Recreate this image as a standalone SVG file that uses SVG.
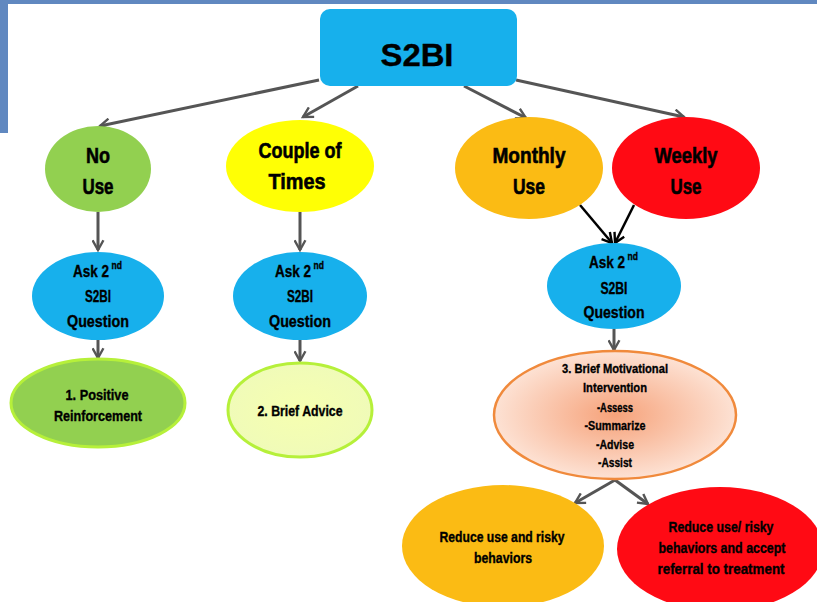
<svg xmlns="http://www.w3.org/2000/svg" width="817" height="602" viewBox="0 0 817 602">
<style>
.t{font-family:"Liberation Sans",Arial,sans-serif;font-weight:bold;fill:#000;text-anchor:middle;stroke:#000;stroke-width:0.35}
.s{text-anchor:start}
.big{font-size:22px;stroke-width:0.6}
.ask{font-size:16.5px}
.sup{font-size:10px}
.sm{font-size:14.5px}
.xs{font-size:13.5px}
.c{stroke:#555;stroke-width:3;fill:none}
.k{stroke:#000;stroke-width:2.5;fill:none}
</style>
<defs>
<marker id="ag" viewBox="0 0 12 12" refX="10" refY="6" markerWidth="13" markerHeight="13" markerUnits="userSpaceOnUse" orient="auto">
<path d="M1,1 L10,6 L1,11" fill="none" stroke="#555" stroke-width="2.2"/>
</marker>
<marker id="ak" viewBox="0 0 12 12" refX="10" refY="6" markerWidth="13" markerHeight="13" markerUnits="userSpaceOnUse" orient="auto">
<path d="M1,1 L10,6 L1,11" fill="none" stroke="#000" stroke-width="2.2"/>
</marker>
<radialGradient id="gAdv" cx="50%" cy="50%" r="50%">
<stop offset="0" stop-color="#F6FFB0"/>
<stop offset="1" stop-color="#F0FBB8"/>
</radialGradient>
<radialGradient id="gBmi" cx="50%" cy="50%" r="50%">
<stop offset="0" stop-color="#F6A27A"/>
<stop offset="1" stop-color="#FDE2D4"/>
</radialGradient>
</defs>
<rect x="0" y="0" width="817" height="4" fill="#6088C0"/>
<rect x="0" y="0" width="8" height="133" fill="#6088C0"/>

<g id="connectors">
<line class="c" x1="319" y1="80" x2="100" y2="126" marker-end="url(#ag)"/>
<line class="c" x1="358" y1="86" x2="303" y2="117" marker-end="url(#ag)"/>
<line class="c" x1="464" y1="86" x2="526" y2="118" marker-end="url(#ag)"/>
<line class="c" x1="516" y1="80" x2="684" y2="117" marker-end="url(#ag)"/>
<line class="c" x1="98" y1="212" x2="98" y2="250" marker-end="url(#ag)"/>
<line class="c" x1="300" y1="212" x2="300" y2="250" marker-end="url(#ag)"/>
<line class="c" x1="98" y1="340" x2="98" y2="358" marker-end="url(#ag)"/>
<line class="c" x1="300" y1="340" x2="300" y2="361" marker-end="url(#ag)"/>
<line class="k" x1="580" y1="205" x2="612" y2="243" marker-end="url(#ak)"/>
<line class="k" x1="634" y1="205" x2="615" y2="243" marker-end="url(#ak)"/>
<line class="c" x1="614" y1="329" x2="614" y2="350" marker-end="url(#ag)"/>
<line class="c" x1="615" y1="480" x2="575" y2="503" marker-end="url(#ag)"/>
<line class="c" x1="615" y1="480" x2="648" y2="504" marker-end="url(#ag)"/>
</g>

<g id="s2bi">
<rect x="320" y="9" width="197" height="77" rx="10" fill="#17B0EC"/>
<text class="t" x="417" y="66" font-size="31" textLength="73" lengthAdjust="spacingAndGlyphs" stroke-width="1.2">S2BI</text>
</g>

<g id="noUse">
<ellipse cx="98" cy="169" rx="53" ry="43" fill="#92D050"/>
<text class="t big" x="98" y="163" textLength="24" lengthAdjust="spacingAndGlyphs">No</text>
<text class="t big" x="98" y="194" textLength="31" lengthAdjust="spacingAndGlyphs">Use</text>
</g>
<g id="couple">
<ellipse cx="300" cy="166" rx="74" ry="46" fill="#FFFF05"/>
<text class="t big" x="300" y="158" textLength="83" lengthAdjust="spacingAndGlyphs">Couple of</text>
<text class="t big" x="297" y="189" textLength="57" lengthAdjust="spacingAndGlyphs">Times</text>
</g>
<g id="monthly">
<ellipse cx="529" cy="168" rx="74" ry="51" fill="#FBBB14"/>
<text class="t big" x="529" y="163" textLength="73" lengthAdjust="spacingAndGlyphs">Monthly</text>
<text class="t big" x="529" y="194" textLength="32" lengthAdjust="spacingAndGlyphs">Use</text>
</g>
<g id="weekly">
<ellipse cx="686" cy="168" rx="74" ry="51" fill="#FF0A14"/>
<text class="t big" x="686" y="163" textLength="63" lengthAdjust="spacingAndGlyphs">Weekly</text>
<text class="t big" x="686" y="194" textLength="31" lengthAdjust="spacingAndGlyphs">Use</text>
</g>

<g id="ask1">
<ellipse cx="98" cy="296" rx="66" ry="44" fill="#17B0EC"/>
<text class="t ask s" transform="translate(73,277) scale(0.82,1)">Ask 2</text>
<text class="t sup s" transform="translate(111.5,269) scale(0.85,1)">nd</text>
<text class="t ask" x="98" y="302" textLength="26" lengthAdjust="spacingAndGlyphs">S2BI</text>
<text class="t ask" x="98" y="327" textLength="62" lengthAdjust="spacingAndGlyphs">Question</text>
</g>
<g id="ask2">
<ellipse cx="300" cy="296" rx="67" ry="44" fill="#17B0EC"/>
<text class="t ask s" transform="translate(275,277) scale(0.82,1)">Ask 2</text>
<text class="t sup s" transform="translate(313.5,269) scale(0.85,1)">nd</text>
<text class="t ask" x="300" y="302" textLength="26" lengthAdjust="spacingAndGlyphs">S2BI</text>
<text class="t ask" x="300" y="327" textLength="62" lengthAdjust="spacingAndGlyphs">Question</text>
</g>
<g id="ask3">
<ellipse cx="614" cy="286" rx="67" ry="43" fill="#17B0EC"/>
<text class="t ask s" transform="translate(589,268) scale(0.82,1)">Ask 2</text>
<text class="t sup s" transform="translate(627.5,260) scale(0.85,1)">nd</text>
<text class="t ask" x="614" y="294" textLength="27" lengthAdjust="spacingAndGlyphs">S2BI</text>
<text class="t ask" x="614" y="318" textLength="61" lengthAdjust="spacingAndGlyphs">Question</text>
</g>

<g id="positive">
<ellipse cx="98" cy="403" rx="87" ry="44" fill="#92D050" stroke="#B6F03A" stroke-width="3"/>
<text class="t sm" x="97" y="400" textLength="63" lengthAdjust="spacingAndGlyphs">1. Positive</text>
<text class="t sm" x="98" y="421" textLength="88" lengthAdjust="spacingAndGlyphs">Reinforcement</text>
</g>
<g id="advice">
<ellipse cx="300" cy="410" rx="72" ry="47" fill="url(#gAdv)" stroke="#B6F03A" stroke-width="3"/>
<text class="t sm" x="300" y="416" textLength="85" lengthAdjust="spacingAndGlyphs">2. Brief Advice</text>
</g>
<g id="bmi">
<ellipse cx="615" cy="415" rx="121" ry="64" fill="url(#gBmi)" stroke="#F08A3C" stroke-width="2.5"/>
<text class="t xs" x="615" y="373" textLength="106" lengthAdjust="spacingAndGlyphs">3. Brief Motivational</text>
<text class="t xs" x="615" y="392" textLength="64" lengthAdjust="spacingAndGlyphs">Intervention</text>
<text class="t xs" x="615" y="412" textLength="36" lengthAdjust="spacingAndGlyphs">-Assess</text>
<text class="t xs" x="615" y="430" textLength="61" lengthAdjust="spacingAndGlyphs">-Summarize</text>
<text class="t xs" x="615" y="449" textLength="38" lengthAdjust="spacingAndGlyphs">-Advise</text>
<text class="t xs" x="615" y="467" textLength="34" lengthAdjust="spacingAndGlyphs">-Assist</text>
</g>
<g id="reduce1">
<ellipse cx="503" cy="546" rx="101" ry="61" fill="#FBBB14"/>
<text class="t sm" x="502" y="542" textLength="125" lengthAdjust="spacingAndGlyphs">Reduce use and risky</text>
<text class="t sm" x="503" y="563" textLength="58" lengthAdjust="spacingAndGlyphs">behaviors</text>
</g>
<g id="reduce2">
<ellipse cx="720" cy="549" rx="103" ry="62" fill="#FF0A14"/>
<text class="t sm" x="721" y="532" textLength="105" lengthAdjust="spacingAndGlyphs">Reduce use/ risky</text>
<text class="t sm" x="722" y="553" textLength="127" lengthAdjust="spacingAndGlyphs">behaviors and accept</text>
<text class="t sm" x="721" y="574" textLength="127" lengthAdjust="spacingAndGlyphs">referral to treatment</text>
</g>
</svg>
